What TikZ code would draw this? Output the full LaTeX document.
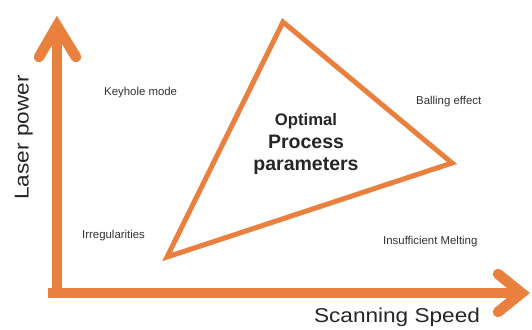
\documentclass[tikz,border=0pt]{standalone}
\usepackage{fontspec}
\setmainfont{Liberation Sans}
% slightly widened face for the two axis titles
\newfontfamily\axisfont[FakeStretch=1.13]{Liberation Sans}
\definecolor{axisorange}{RGB}{233,128,61}
\definecolor{notegrey}{RGB}{50,50,50}
\definecolor{titlegrey}{RGB}{38,38,38}
\begin{document}
\begin{tikzpicture}[x=1pt,y=-1pt,
  axisline/.style={draw=axisorange,line width=10.5pt},
  axishead/.style={draw=axisorange,line width=10.5pt,line cap=round,line join=miter},
  region/.style={draw=axisorange,line width=5pt,line join=miter},
  note/.style={font=\fontsize{11.4}{13}\selectfont,text=notegrey,inner sep=0pt,anchor=base west},
  axislabel/.style={font=\axisfont\fontsize{20}{24}\selectfont,text=titlegrey,inner sep=0pt,anchor=base},
  centre/.style={font=\bfseries,text=titlegrey,inner sep=0pt,anchor=base},
]
\useasboundingbox (0,0) rectangle (532,329);
\fill[white] (0,0) rectangle (532,329);

% axes
\coordinate (ybase) at (57,298);
\coordinate (xbase) at (47.5,293);
\coordinate (ytip)  at (57,26);
\coordinate (xtip)  at (521.5,293);
\draw[axisline] (ybase) -- (57,32);
\draw[axisline] (xbase) -- (516,293);
\draw[axishead] (39,57) -- (ytip) -- (76,57);
\draw[axishead] (498,274) -- (xtip) -- (498,312);

% process window
\coordinate (ttop)   at (283,22);
\coordinate (tright) at (452,163);
\coordinate (tleft)  at (167,257);
\draw[region] (ttop) -- (tright) -- (tleft) -- cycle;

% axis titles
\node[axislabel,rotate=90] (ylabel) at (28.5,137.5) {Laser power};
\node[axislabel] (xlabel) at (397,322) {Scanning Speed};

% regions around the window
\node[note] (keyhole) at (104,95.3) {Keyhole mode};
\node[note] (balling) at (416,104.7) {Balling effect};
\node[note] (irreg) at (82,238.7) {Irregularities};
\node[note] (insuff) at (383,244) {Insufficient Melting};

% window label
\node[centre,font=\bfseries\fontsize{16.7}{20}\selectfont] (opt) at (306,125.3) {Optimal};
\node[centre,font=\bfseries\fontsize{19.5}{23}\selectfont] (proc) at (306,148.7) {Process};
\node[centre,font=\bfseries\fontsize{19.5}{23}\selectfont] (param) at (306,170.7) {parameters};
\end{tikzpicture}
\end{document}
